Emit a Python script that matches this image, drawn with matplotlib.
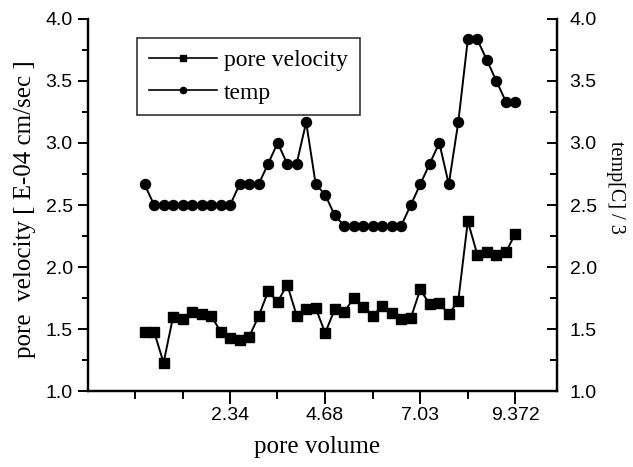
import matplotlib
matplotlib.use("Agg")
import matplotlib.pyplot as plt
from matplotlib.ticker import FixedLocator, MultipleLocator

# pore volume (x), pore velocity [E-04 cm/sec] and temp[C]/3
pore_volume = [0.234, 0.469, 0.703, 0.937, 1.172, 1.406, 1.640, 1.874, 2.109, 2.343,
               2.577, 2.812, 3.046, 3.280, 3.515, 3.749, 3.983, 4.217, 4.452, 4.686,
               4.920, 5.155, 5.389, 5.623, 5.858, 6.092, 6.326, 6.560, 6.795, 7.029,
               7.263, 7.498, 7.732, 7.966, 8.201, 8.435, 8.669, 8.903, 9.138, 9.372]
pore_velocity = [1.48, 1.48, 1.23, 1.60, 1.58, 1.64, 1.62, 1.61, 1.48, 1.43,
                 1.41, 1.44, 1.605, 1.805, 1.72, 1.86, 1.61, 1.665, 1.67, 1.47,
                 1.66, 1.64, 1.75, 1.68, 1.605, 1.69, 1.63, 1.58, 1.59, 1.82,
                 1.70, 1.71, 1.62, 1.73, 2.37, 2.10, 2.12, 2.10, 2.12, 2.27]
temp = [2.667, 2.5, 2.5, 2.5, 2.5, 2.5, 2.5, 2.5, 2.5, 2.5,
        2.667, 2.667, 2.667, 2.833, 3.0, 2.833, 2.833, 3.167, 2.667, 2.583,
        2.417, 2.333, 2.333, 2.333, 2.333, 2.333, 2.333, 2.333, 2.5, 2.667,
        2.833, 3.0, 2.667, 3.167, 3.833, 3.833, 3.667, 3.5, 3.333, 3.333]

x_major = [2.34, 4.68, 7.03, 9.372]
x_minor = [0.0, 1.17, 3.51, 5.86, 8.2]
tick_font = "Liberation Sans"
text_font = "Liberation Serif"

fig = plt.figure(figsize=(6.33, 4.67), dpi=100)
ax = fig.add_axes([0.139, 0.162, 0.741, 0.798])
ax2 = ax.twinx()

ax.plot(pore_volume, pore_velocity, color="black", linewidth=1.4,
        marker="s", markersize=6.5, label="pore velocity")
ax2.plot(pore_volume, temp, color="black", linewidth=1.4,
         marker="o", markersize=7.2, label="temp")

ax.set_xlim(-1.16, 10.40)
for a in (ax, ax2):
    a.set_ylim(1.0, 4.0)
    a.yaxis.set_major_locator(MultipleLocator(0.5))
    a.yaxis.set_minor_locator(MultipleLocator(0.25))
    a.spines["top"].set_visible(False)
    for s in a.spines.values():
        s.set_linewidth(1.6)

ax.xaxis.set_major_locator(FixedLocator(x_major))
ax.xaxis.set_minor_locator(FixedLocator(x_minor))
ax.set_xticklabels(["2.34", "4.68", "7.03", "9.372"])

ax.tick_params(axis="x", which="major", direction="out", length=9, width=1.4, pad=2)
ax.tick_params(axis="x", which="minor", direction="out", length=6, width=1.4)
ax.tick_params(axis="y", which="major", direction="out", length=7, width=1.4, pad=4)
ax.tick_params(axis="y", which="minor", direction="out", length=4, width=1.4)
ax2.tick_params(axis="y", which="major", direction="in", length=7, width=1.4, pad=9)
ax2.tick_params(axis="y", which="minor", direction="in", length=5, width=1.4)

for lab in ax.get_xticklabels() + ax.get_yticklabels() + ax2.get_yticklabels():
    lab.set_fontfamily(tick_font)
    lab.set_fontsize(14)

ax.text(-0.135, 0.49, "pore  velocity [ E-04 cm/sec ]", transform=ax.transAxes,
        rotation=90, ha="center", va="center", fontsize=18, family=text_font)
ax.text(1.124, 0.548, "temp[C] / 3", transform=ax.transAxes,
        rotation=270, ha="center", va="center", fontsize=14.5, family=text_font)
ax.text(0.488, -0.149, "pore volume", transform=ax.transAxes,
        ha="center", va="center", fontsize=18, family=text_font)

h1 = plt.Line2D([], [], color="black", linewidth=1.2, marker="s", markersize=4)
h2 = plt.Line2D([], [], color="black", linewidth=1.2, marker="o", markersize=4.5)
leg = ax.legend([h1, h2], ["pore velocity", "temp"], loc="upper left",
                bbox_to_anchor=(0.104, 0.948), fancybox=False, frameon=True,
                edgecolor="black", prop={"family": text_font, "size": 17},
                handlelength=2.9, handletextpad=0.3, borderpad=0.5,
                labelspacing=0.45, borderaxespad=0)
leg.get_frame().set_linewidth(1.2)

fig.savefig("out.png", dpi=100)
